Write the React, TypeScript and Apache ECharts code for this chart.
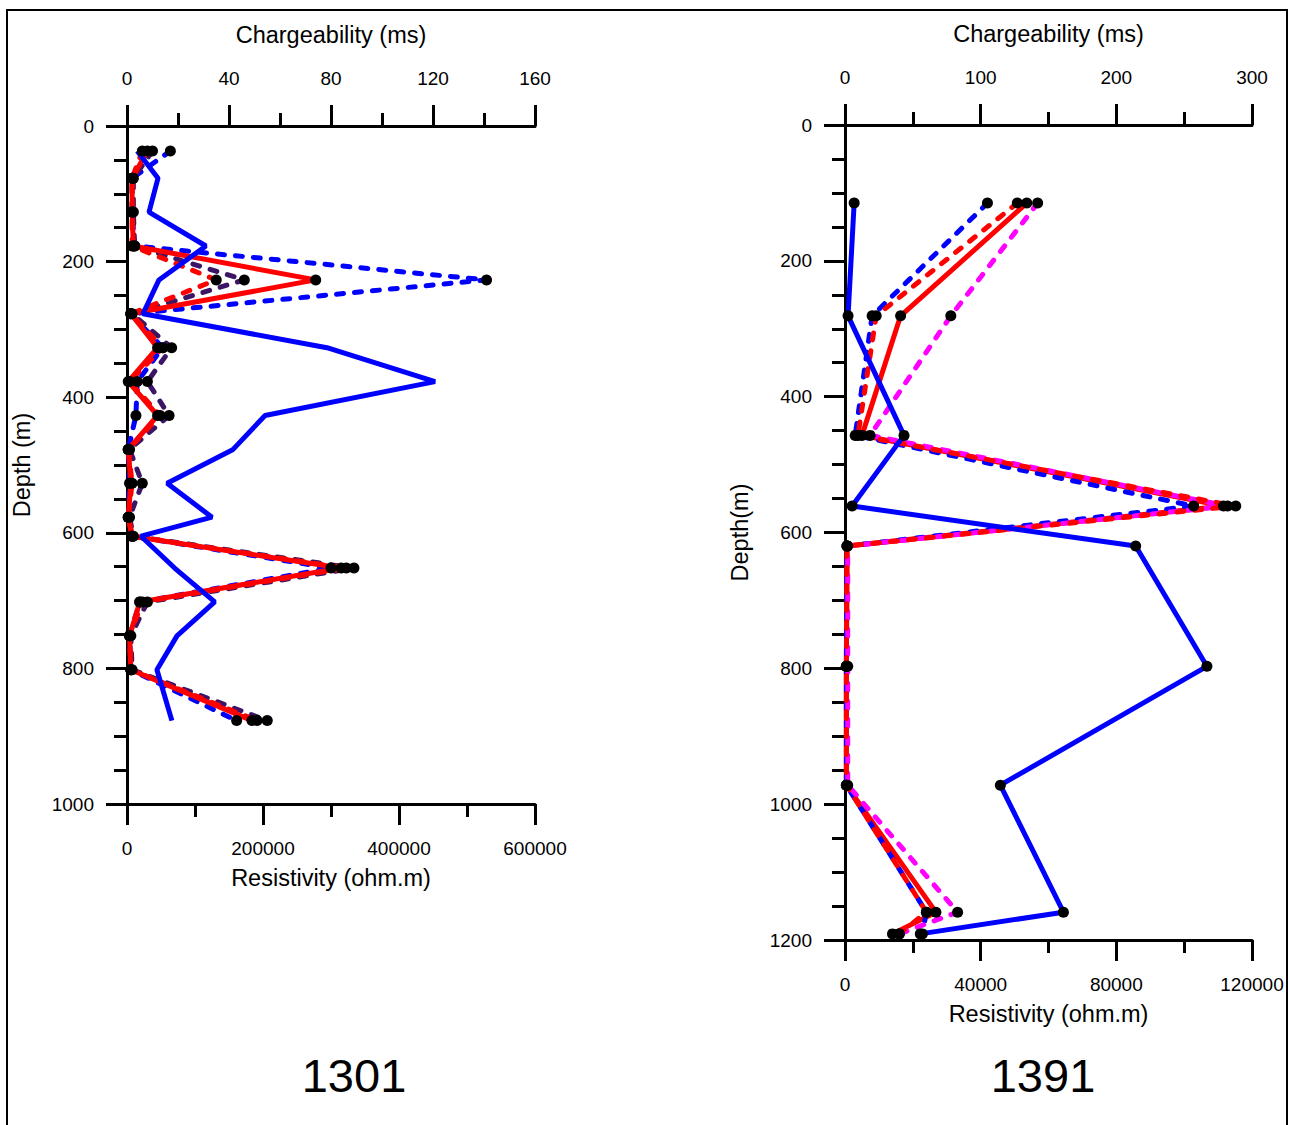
import React, { useEffect, useRef } from "react";
import * as echarts from "echarts";

// ---------- Well 1301 (left panel) ----------
const depthsL = [37, 77, 127, 177, 227, 277, 327, 377, 427, 477, 527, 577, 605, 652, 702, 752, 802, 877];
// Resistivity (ohm.m) - blue solid
const resL = [15000, 45600, 32400, 116000, 47000, 23500, 294000, 453000, 203000, 156000, 59000, 125000, 20600, 70000, 129000, 73500, 44000, 66000];
// Chargeability (ms)
const chRedSolidL = [8, 2, 2, 2.5, 74, 1.5, 12, 0.5, 12, 0.5, 1.5, 0.5, 2, 84, 5, 1, 1.5, 49];
const chRedDashL = [6, 2, 2, 2, 35, 1.5, 14, 1, 13, 0.5, 2, 0.5, 2, 86, 6, 1, 1.5, 51];
const chPurpleDashL = [10, 2.5, 2.5, 3, 46, 2, 17.5, 8, 16.5, 1, 6, 1, 2.5, 89, 8, 1.5, 2, 55];
const chBlueDashL = [17, 2, 2, 3, 141, 1.5, 14, 4, 3.5, 0.5, 1, 0.5, 2, 80, 5, 1, 1.5, 43];

// ---------- Well 1391 (right panel) ----------
const depthsR = [115, 281, 457, 561, 620, 797, 972, 1159, 1191];
const resR = [2700, 900, 17400, 2100, 85700, 106700, 45800, 64400, 22200];
const chRedSolidR = [134, 41, 12.5, 279, 1.5, 1, 1, 67, 35];
const chRedDashR = [127, 23, 9.5, 288, 1.5, 1, 1, 60, 40];
const chBlueDashR = [105, 20, 7.5, 257, 1.5, 1, 1, 60, 57];
const chMagentaDashR = [142, 78, 18.5, 282, 2, 2, 2, 83, 40];

// Axis ticks
const chargeTicksL = { min: 0, max: 160, interval: 40 };
const resTicksL = { min: 0, max: 600000, interval: 200000 };
const depthTicksL = { min: 0, max: 1000, interval: 200 };
const chargeTicksR = { min: 0, max: 300, interval: 100 };
const resTicksR = { min: 0, max: 120000, interval: 40000 };
const depthTicksR = { min: 0, max: 1200, interval: 200 };

const FONT = "'Liberation Sans', Arial, Helvetica, sans-serif";
const BLUE = "#0000ff";
const RED = "#ff0000";
const PURPLE = "#3d1566";
const MAGENTA = "#ff00ff";
const DASH = [7, 11];

const pairs = (vals: number[], depths: number[]) => vals.map((v, i) => [v, depths[i]]);

function axisCommon() {
  return {
    type: "value" as const,
    axisLine: { show: true, onZero: false, lineStyle: { color: "#000", width: 3 } },
    axisTick: { show: true, inside: false, length: 21, lineStyle: { color: "#000", width: 3 } },
    minorTick: { show: true, length: 13, lineStyle: { color: "#000", width: 3 } },
    splitLine: { show: false },
    minorSplitLine: { show: false },
    axisLabel: { color: "#000", fontSize: 19, fontFamily: FONT, formatter: (v: number) => String(v) },
    nameTextStyle: { color: "#000", fontSize: 23.5, fontFamily: FONT },
  };
}

function xAxis(gridIndex: number, pos: "top" | "bottom", t: any, name: string, minorSplit: number) {
  const c = axisCommon();
  return {
    ...c,
    gridIndex,
    position: pos,
    min: t.min,
    max: t.max,
    interval: t.interval,
    minorTick: { ...c.minorTick, splitNumber: minorSplit },
    axisLabel: { ...c.axisLabel, margin: pos === "top" ? 38 : 35 },
    name,
    nameLocation: "middle",
    nameGap: pos === "top" ? 79 : 62,
  };
}

function yAxis(gridIndex: number, t: any, name: string) {
  const c = axisCommon();
  return {
    ...c,
    gridIndex,
    position: "left",
    inverse: true,
    min: t.min,
    max: t.max,
    interval: t.interval,
    minorTick: { ...c.minorTick, splitNumber: 4 },
    axisLabel: { ...c.axisLabel, margin: 33 },
    name,
    nameLocation: "middle",
    nameGap: 93,
  };
}

function lineSeries(name: string, data: number[][], xi: number, yi: number, color: string, dashed: boolean) {
  return {
    type: "line",
    name,
    xAxisIndex: xi,
    yAxisIndex: yi,
    data,
    symbol: "none",
    lineStyle: { color, width: 5, opacity: 1, type: dashed ? DASH : "solid", cap: dashed ? "round" : "butt" },
    z: 2,
  };
}

function dotSeries(data: number[][], xi: number, yi: number) {
  return {
    type: "scatter",
    xAxisIndex: xi,
    yAxisIndex: yi,
    data,
    symbol: "circle",
    symbolSize: 11,
    itemStyle: { color: "#000", opacity: 1 },
    z: 5,
  };
}

export default function App() {
  const ref = useRef<HTMLDivElement>(null);
  useEffect(() => {
    if (!ref.current) return;
    const chart = echarts.init(ref.current, undefined, { renderer: "svg" });

    const L_ch = [
      pairs(chBlueDashL, depthsL),
      pairs(chPurpleDashL, depthsL),
      pairs(chRedDashL, depthsL),
      pairs(chRedSolidL, depthsL),
    ];
    const R_ch = [
      pairs(chRedSolidR, depthsR),
      pairs(chBlueDashR, depthsR),
      pairs(chMagentaDashR, depthsR),
      pairs(chRedDashR, depthsR),
    ];

    const option: any = {
      animation: false,
      backgroundColor: "#fff",
      textStyle: { fontFamily: FONT },
      grid: [
        { left: 127, top: 126, width: 408, height: 678 },
        { left: 845, top: 125, width: 407, height: 815 },
      ],
      xAxis: [
        xAxis(0, "top", chargeTicksL, "Chargeability (ms)", 2),
        xAxis(0, "bottom", resTicksL, "Resistivity (ohm.m)", 2),
        xAxis(1, "top", chargeTicksR, "Chargeability (ms)", 2),
        xAxis(1, "bottom", resTicksR, "Resistivity (ohm.m)", 2),
      ],
      yAxis: [yAxis(0, depthTicksL, "Depth (m)"), yAxis(1, depthTicksR, "Depth(m)")],
      series: [
        // left
        lineSeries("M blue dashed 1301", L_ch[0], 0, 0, BLUE, true),
        lineSeries("M purple dashed 1301", L_ch[1], 0, 0, PURPLE, true),
        lineSeries("M red dashed 1301", L_ch[2], 0, 0, RED, true),
        lineSeries("M red 1301", L_ch[3], 0, 0, RED, false),
        lineSeries("Resistivity 1301", pairs(resL, depthsL), 1, 0, BLUE, false),
        dotSeries(L_ch[0], 0, 0),
        dotSeries(L_ch[1], 0, 0),
        dotSeries(L_ch[2], 0, 0),
        dotSeries(L_ch[3], 0, 0),
        // right
        lineSeries("M red 1391", R_ch[0], 2, 1, RED, false),
        lineSeries("M blue dashed 1391", R_ch[1], 2, 1, BLUE, true),
        lineSeries("M magenta dashed 1391", R_ch[2], 2, 1, MAGENTA, true),
        lineSeries("M red dashed 1391", R_ch[3], 2, 1, RED, true),
        lineSeries("Resistivity 1391", pairs(resR, depthsR), 3, 1, BLUE, false),
        dotSeries(R_ch[0], 2, 1),
        dotSeries(R_ch[1], 2, 1),
        dotSeries(R_ch[2], 2, 1),
        dotSeries(R_ch[3], 2, 1),
        dotSeries(pairs(resR, depthsR), 3, 1),
      ],
      graphic: [
        {
          type: "rect",
          shape: { x: 7, y: 10, width: 1280, height: 1135 },
          style: { fill: "none", stroke: "#000", lineWidth: 2 },
          silent: true,
        },
        {
          type: "text",
          x: 354,
          y: 1075,
          style: { text: "1301", fontSize: 47, fontFamily: FONT, fill: "#000", align: "center", verticalAlign: "middle" },
        },
        {
          type: "text",
          x: 1043,
          y: 1075,
          style: { text: "1391", fontSize: 47, fontFamily: FONT, fill: "#000", align: "center", verticalAlign: "middle" },
        },
      ],
    };
    chart.setOption(option);
    return () => chart.dispose();
  }, []);

  return (
    <div
      ref={ref}
      style={{ position: "fixed", left: 0, top: 0, width: 1290, height: 1125, background: "#fff" }}
    />
  );
}
